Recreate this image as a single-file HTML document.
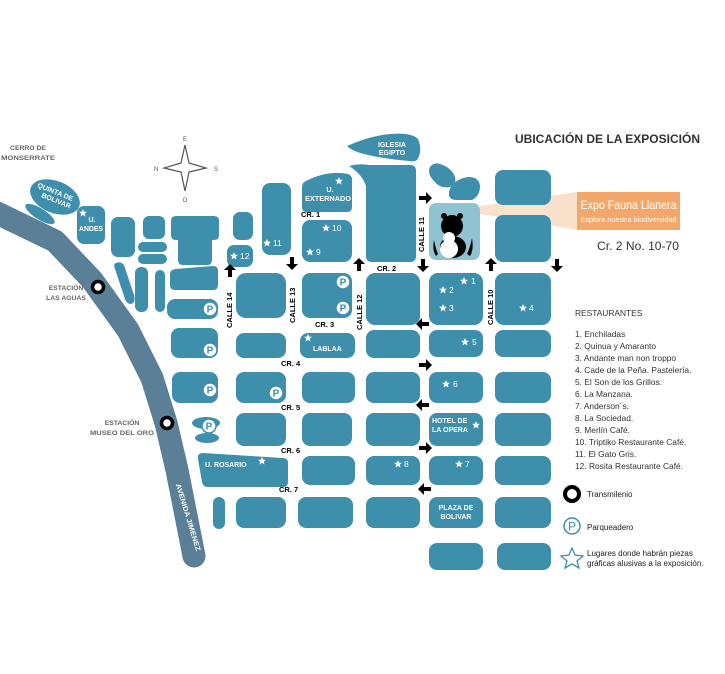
<!DOCTYPE html>
<html><head><meta charset="utf-8"><style>
html,body{margin:0;padding:0;background:#fff;}
svg{display:block;font-family:"Liberation Sans",sans-serif;}
.b{fill:#3d8fab;}
.w{fill:#fff;font-weight:bold;font-size:7px;}
.n{fill:#fff;font-size:8.5px;}
.k{fill:#000;font-weight:bold;font-size:7.5px;}
.g{fill:#666;font-weight:bold;font-size:6.8px;}
.l{fill:#333;font-size:8.4px;}
</style></head><body>
<svg width="725" height="674" viewBox="0 0 725 674" xmlns="http://www.w3.org/2000/svg">
<defs>
<path id="ar" d="M-6,-2 h7 v-4 l6,6 l-6,6 v-4 h-7z" fill="#000"/>
<path id="st" d="M0,-4 L1.2,-1.3 4,-1.2 1.8,0.6 2.5,3.5 0,1.9 -2.5,3.5 -1.8,0.6 -4,-1.2 -1.2,-1.3z" fill="#fff"/>
<g id="pk"><circle r="7" fill="#fff" stroke="#3d8fab" stroke-width="1.5"/><text x="0" y="3.5" text-anchor="middle" font-size="10" font-weight="bold" fill="#3d8fab">P</text></g>
</defs>
<!-- road -->
<polyline points="-5,212 55,241 92,280 128,330 152,378 166,423 177,470 194,556" fill="none" stroke="#5a7f96" stroke-width="23" stroke-linejoin="round" stroke-linecap="round"/>
<circle cx="98" cy="287" r="5.5" fill="#fff" stroke="#000" stroke-width="3.5"/>
<circle cx="167" cy="423" r="5.5" fill="#fff" stroke="#000" stroke-width="3.5"/>
<text x="186" y="518" transform="rotate(73 186 518)" class="w" font-size="6" font-weight="normal" text-anchor="middle" textLength="70" lengthAdjust="spacingAndGlyphs">AVENIDA JIMENEZ</text>
<!-- compass -->
<path d="M185,145 L189,163 206,168 189,172 185,191 181,172 164,168 181,163z" fill="#fff" stroke="#555" stroke-width="1.2"/>
<text x="185" y="141" font-size="6" fill="#555" text-anchor="middle">E</text>
<text x="154" y="171" font-size="6" fill="#555">N</text>
<text x="214" y="171" font-size="6" fill="#555">S</text>
<text x="185" y="202" font-size="6" fill="#555" text-anchor="middle">O</text>
<text x="28" y="150" class="g" text-anchor="middle">CERRO DE</text>
<text x="28" y="160" class="g" text-anchor="middle" textLength="54" lengthAdjust="spacingAndGlyphs">MONSERRATE</text>
<text x="66" y="290" class="g" text-anchor="middle">ESTACIÓN</text>
<text x="66" y="300" class="g" text-anchor="middle">LAS AGUAS</text>
<text x="122" y="425" class="g" text-anchor="middle">ESTACIÓN</text>
<text x="122" y="435" class="g" text-anchor="middle" textLength="64" lengthAdjust="spacingAndGlyphs">MUSEO DEL ORO</text>
<!-- left blocks -->
<ellipse class="b" cx="55" cy="197" rx="26" ry="16" transform="rotate(22 55 197)"/>
<text class="w" font-size="6.5" transform="translate(37,187) rotate(22)">QUINTA DE</text>
<text class="w" font-size="6.5" transform="translate(41,197) rotate(22)">BOLIVAR</text>
<ellipse class="b" cx="40" cy="214" rx="17" ry="5.5" transform="rotate(32 40 214)"/>
<rect class="b" x="77" y="206" width="28" height="38" rx="7"/>
<use href="#st" x="83" y="213"/>
<text class="w" x="92" y="222" text-anchor="middle">U.</text>
<text class="w" x="91" y="231" text-anchor="middle" textLength="24" lengthAdjust="spacingAndGlyphs">ANDES</text>
<rect class="b" x="111" y="217" width="24" height="40" rx="7"/>
<rect class="b" x="143" y="216" width="22" height="23" rx="6"/>
<rect class="b" x="138" y="242" width="29" height="10" rx="5"/>
<rect class="b" x="138" y="254" width="29" height="10" rx="5"/>
<path class="b" d="M178,216 h36 q5,0 5,5 v14 q0,5 -5,5 h-2 v20 q0,5 -5,5 h-24 q-5,0 -5,-5 v-20 h-2 q-5,0 -5,-5 v-14 q0,-5 5,-5z"/>
<path class="b" d="M116,263 q5,-2 8,2 l10,30 q2,8 -3,9 q-4,0 -6,-5 l-10,-30 q-2,-5 1,-6z"/>
<rect class="b" x="135" y="267" width="13" height="45" rx="6"/>
<rect class="b" x="155" y="270" width="10" height="42" rx="5"/>
<path class="b" d="M170,274 q0,-4 5,-5 l38,-3 q5,0 5,5 v14 q0,5 -5,5 h-38 q-5,0 -5,-5z"/>
<rect class="b" x="167" y="299" width="51" height="20" rx="8"/>
<use href="#pk" x="210" y="309"/>
<rect class="b" x="171" y="328" width="47" height="30" rx="8"/>
<use href="#pk" x="210" y="350"/>
<rect class="b" x="172" y="372" width="46" height="31" rx="8"/>
<use href="#pk" x="210" y="390"/>
<ellipse class="b" cx="206" cy="423" rx="14" ry="6"/>
<ellipse class="b" cx="207" cy="438" rx="12" ry="5"/>
<use href="#pk" x="209" y="426"/>
<path class="b" d="M203,453 l80,5 q5,0 5,5 v19 q0,5 -5,5 h-75 q-5,0 -6,-5 l-4,-23 q-1,-6 5,-6z"/>
<text class="w" x="205" y="467" font-weight="normal">U. ROSARIO</text>
<use href="#st" x="262" y="461"/>
<rect class="b" x="213" y="497" width="12" height="32" rx="6"/>
<!-- col E -->
<rect class="b" x="233" y="212" width="20" height="28" rx="7"/>
<rect class="b" x="227" y="245" width="26" height="22" rx="7"/>
<use href="#st" x="234" y="256"/><text class="n" x="240" y="259">12</text>
<rect class="b" x="262" y="183" width="29" height="72" rx="8"/>
<use href="#st" x="267" y="243"/><text class="n" x="273" y="246">11</text>
<rect class="b" x="236" y="273" width="50" height="45" rx="10"/>
<rect class="b" x="236" y="333" width="50" height="25" rx="8"/>
<rect class="b" x="236" y="372" width="50" height="31" rx="8"/>
<use href="#pk" x="276" y="393"/>
<rect class="b" x="236" y="413" width="50" height="33" rx="8"/>
<rect class="b" x="236" y="497" width="50" height="31" rx="8"/>
<!-- col D -->
<path class="b" d="M308,180 q20,-10 40,-6 q5,2 4,8 v25 q0,5 -5,5 h-40 q-5,0 -5,-5 v-20 q0,-5 6,-7z"/>
<use href="#st" x="339" y="181"/>
<text class="w" x="330" y="192" text-anchor="middle">U.</text>
<text class="w" x="328" y="201" text-anchor="middle" textLength="46" lengthAdjust="spacingAndGlyphs">EXTERNADO</text>
<rect class="b" x="302" y="220" width="50" height="42" rx="8"/>
<use href="#st" x="326" y="228"/><text class="n" x="332" y="231">10</text>
<use href="#st" x="310" y="252"/><text class="n" x="316" y="255">9</text>
<rect class="b" x="302" y="273" width="50" height="45" rx="8"/>
<use href="#pk" x="343" y="282"/><use href="#pk" x="343" y="308"/>
<rect class="b" x="300" y="333" width="55" height="25" rx="8"/>
<use href="#st" x="308" y="338"/>
<text class="w" x="313" y="351">LABLAA</text>
<rect class="b" x="302" y="372" width="53" height="31" rx="8"/>
<rect class="b" x="302" y="413" width="50" height="33" rx="8"/>
<rect class="b" x="302" y="456" width="53" height="29" rx="8"/>
<rect class="b" x="298" y="497" width="55" height="31" rx="8"/>
<!-- col C -->
<path class="b" d="M349,166 q10,-3 20,-1 h41 q6,0 6,6 v85 q0,6 -6,6 h-38 q-6,0 -6,-6 v-70 q-4,-12 -17,-20z"/>
<path class="b" d="M347,146 q18,-8 35,-11 q28,-4 36,4 q5,12 -1,21 q-3,2 -8,1 q-25,-2 -45,-7 q-12,-3 -17,-8z"/>
<text class="w" x="392" y="147" text-anchor="middle" font-size="6.5">IGLESIA</text>
<text class="w" x="392" y="155" text-anchor="middle" font-size="6.5">EGIPTO</text>
<rect class="b" x="366" y="273" width="54" height="52" rx="9"/>
<rect class="b" x="366" y="330" width="54" height="28" rx="8"/>
<rect class="b" x="366" y="372" width="54" height="31" rx="8"/>
<rect class="b" x="366" y="413" width="54" height="33" rx="8"/>
<rect class="b" x="366" y="456" width="54" height="29" rx="8"/>
<use href="#st" x="398" y="464"/><text class="n" x="404" y="467">8</text>
<rect class="b" x="366" y="497" width="54" height="31" rx="8"/>
<!-- col A -->
<path class="b" d="M430,167 q4,-5 10,-3 q12,4 15,13 q2,8 -5,10 q-10,2 -16,-6 q-7,-7 -4,-14z"/>
<path class="b" d="M451,187 q6,-9 18,-10 q10,0 11,9 q0,10 -8,14 h-15 q-9,0 -8,-7 q0,-3 2,-6z"/>
<rect x="429" y="203" width="51" height="57" rx="7" fill="#8fc3d1"/>
<g fill="#000">
<ellipse cx="452" cy="226" rx="11" ry="11"/>
<circle cx="444" cy="216" r="3"/><circle cx="460" cy="216" r="3"/>
<path d="M436,256 q-4,-6 -2,-16 q2,10 4,14z M470,256 q4,-6 2,-18 q-2,10 -5,16z"/>
<ellipse cx="453" cy="247" rx="13" ry="11"/>
</g>
<g fill="#fff"><ellipse cx="449" cy="249" rx="9" ry="9"/><circle cx="449" cy="238" r="6"/></g>
<path d="M480,206 L577,192 L577,230 L480,214z" fill="#f9d9bf" opacity="0.8"/>
<rect class="b" x="429" y="273" width="54" height="52" rx="9"/>
<use href="#st" x="464" y="281"/><text class="n" x="471" y="284">1</text>
<use href="#st" x="443" y="290"/><text class="n" x="449" y="293">2</text>
<use href="#st" x="443" y="308"/><text class="n" x="449" y="311">3</text>
<rect class="b" x="429" y="330" width="54" height="27" rx="8"/>
<use href="#st" x="465" y="342"/><text class="n" x="472" y="345">5</text>
<rect class="b" x="429" y="372" width="54" height="31" rx="8"/>
<use href="#st" x="446" y="384"/><text class="n" x="453" y="387">6</text>
<rect class="b" x="429" y="413" width="54" height="33" rx="8"/>
<text class="w" x="432" y="423">HOTEL DE</text><text class="w" x="432" y="432">LA OPERA</text>
<use href="#st" x="476" y="425"/>
<rect class="b" x="429" y="456" width="54" height="29" rx="8"/>
<use href="#st" x="459" y="464"/><text class="n" x="465" y="467">7</text>
<rect class="b" x="429" y="497" width="54" height="31" rx="8"/>
<text class="w" x="456" y="510" text-anchor="middle">PLAZA DE</text><text class="w" x="456" y="519" text-anchor="middle">BOLIVAR</text>
<rect class="b" x="429" y="543" width="54" height="27" rx="8"/>
<!-- col B -->
<rect class="b" x="495" y="170" width="56" height="35" rx="8"/>
<rect class="b" x="495" y="215" width="56" height="47" rx="8"/>
<rect class="b" x="495" y="273" width="56" height="52" rx="9"/>
<use href="#st" x="523" y="308"/><text class="n" x="529" y="311">4</text>
<rect class="b" x="495" y="330" width="56" height="27" rx="8"/>
<rect class="b" x="495" y="372" width="56" height="31" rx="8"/>
<rect class="b" x="495" y="413" width="56" height="33" rx="8"/>
<rect class="b" x="495" y="456" width="56" height="29" rx="8"/>
<rect class="b" x="495" y="497" width="56" height="31" rx="8"/>
<rect class="b" x="497" y="543" width="54" height="27" rx="8"/>
<!-- arrows -->
<use href="#ar" transform="translate(292,263) rotate(90)"/>
<use href="#ar" transform="translate(230,271) rotate(-90)"/>
<use href="#ar" transform="translate(359,265) rotate(-90)"/>
<use href="#ar" transform="translate(425,198)"/>
<use href="#ar" transform="translate(423,265) rotate(90)"/>
<use href="#ar" transform="translate(491,265) rotate(-90)"/>
<use href="#ar" transform="translate(557,265) rotate(90)"/>
<use href="#ar" transform="translate(423,324) rotate(180)"/>
<use href="#ar" transform="translate(425,365)"/>
<use href="#ar" transform="translate(423,405) rotate(180)"/>
<use href="#ar" transform="translate(425,448)"/>
<use href="#ar" transform="translate(425,489) rotate(180)"/>
<!-- street labels -->
<text class="k" transform="translate(232,328) rotate(-90)">CALLE 14</text>
<text class="k" transform="translate(295,323) rotate(-90)">CALLE 13</text>
<text class="k" transform="translate(362,330) rotate(-90)">CALLE 12</text>
<text class="k" transform="translate(424,252) rotate(-90)">CALLE 11</text>
<text class="k" transform="translate(493,325) rotate(-90)">CALLE 10</text>
<text class="k" x="301" y="217">CR. 1</text>
<text class="k" x="377" y="271">CR. 2</text>
<text class="k" x="315" y="327">CR. 3</text>
<text class="k" x="281" y="366">CR. 4</text>
<text class="k" x="281" y="410">CR. 5</text>
<text class="k" x="281" y="453">CR. 6</text>
<text class="k" x="279" y="492">CR. 7</text>
<!-- callout -->
<text x="515" y="143" font-size="11.5" font-weight="bold" fill="#333" textLength="185" lengthAdjust="spacingAndGlyphs">UBICACIÓN DE LA EXPOSICIÓN</text>
<rect x="577" y="192" width="103" height="38" fill="#f3a86b"/>
<text x="628.5" y="209" text-anchor="middle" font-size="11.5" fill="#fff" textLength="96" lengthAdjust="spacingAndGlyphs">Expo Fauna Llanera</text>
<text x="628.5" y="222" text-anchor="middle" font-size="7" fill="#fff" textLength="96" lengthAdjust="spacingAndGlyphs">Explora nuestra biodiversidad</text>
<text x="597" y="250" font-size="12" fill="#333" textLength="82" lengthAdjust="spacingAndGlyphs">Cr. 2 No. 10-70</text>
<!-- legend -->
<text x="575" y="316" class="l">RESTAURANTES</text>
<g class="l">
<text x="575" y="337">1. Enchiladas</text>
<text x="575" y="349">2. Quinua y Amaranto</text>
<text x="575" y="361">3. Andante man non troppo</text>
<text x="575" y="373">4. Cade de la Peña. Pastelería.</text>
<text x="575" y="385">5. El Son de los Grillos.</text>
<text x="575" y="397">6. La Manzana.</text>
<text x="575" y="409">7. Anderson´s.</text>
<text x="575" y="421">8. La Sociedad.</text>
<text x="575" y="433">9. Merlín Café.</text>
<text x="575" y="445">10. Triptiko Restaurante Café.</text>
<text x="575" y="457">11. El Gato Gris.</text>
<text x="575" y="469">12. Rosita Restaurante Café.</text>
</g>
<circle cx="572" cy="494" r="7" fill="#fff" stroke="#000" stroke-width="4"/>
<text x="587" y="497" font-size="8" fill="#222">Transmilenio</text>
<circle cx="572" cy="526" r="8" fill="#fff" stroke="#3d8fab" stroke-width="1.5"/>
<text x="572" y="530.5" text-anchor="middle" font-size="12" fill="#3d8fab">P</text>
<text x="587" y="530" font-size="8" fill="#222">Parqueadero</text>
<path d="M572,548 L575,555 583,556 577,561 579,568 572,564 565,568 567,561 561,556 569,555z" fill="#fff" stroke="#3d8fab" stroke-width="1.3"/>
<text x="587" y="556" font-size="8" fill="#222">Lugares donde habrán piezas</text>
<text x="587" y="566" font-size="8" fill="#222">gráficas alusivas a la exposición.</text>
</svg>
</body></html>
